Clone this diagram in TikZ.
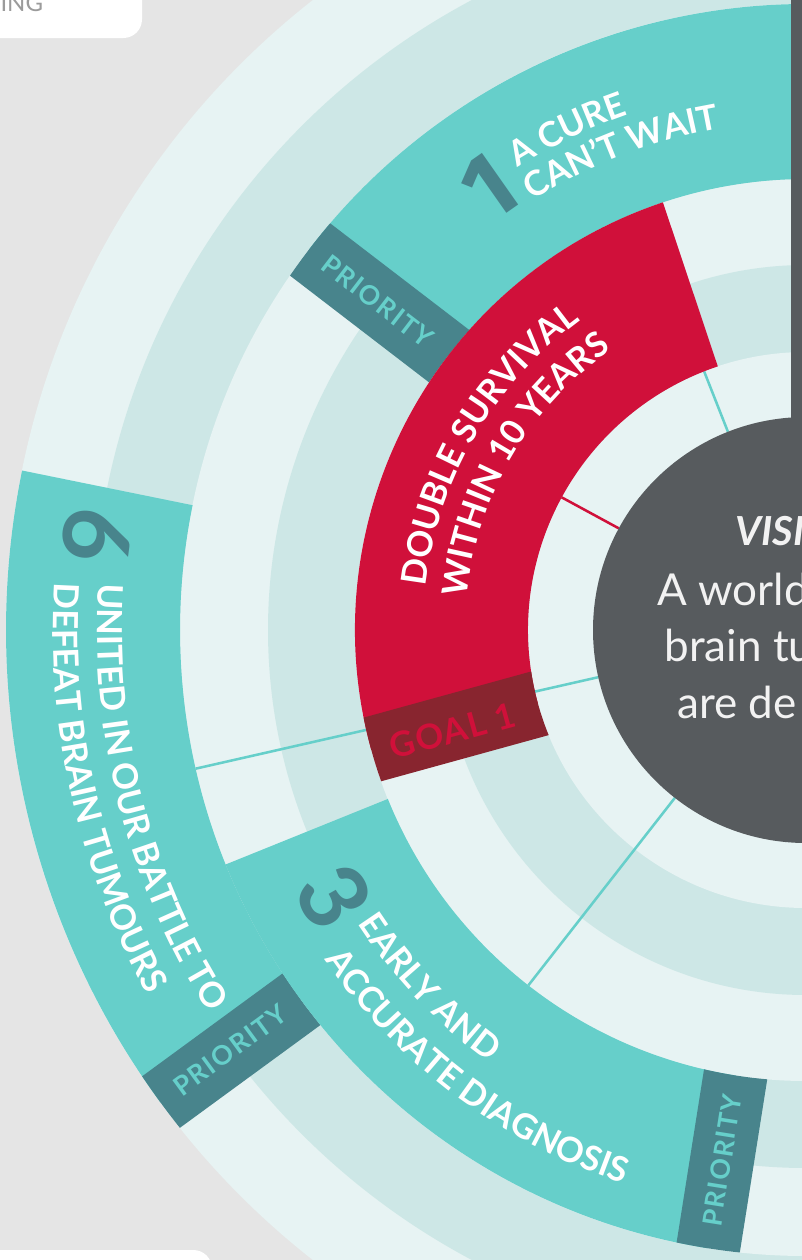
\documentclass[tikz,border=0pt]{standalone}
\usepackage{fontspec}
\setmainfont{Lato}
\newfontfamily\onefamily{Fira Sans}
\usetikzlibrary{decorations.text}

\definecolor{pagegrey}{HTML}{E5E5E5}
\definecolor{ringlight}{HTML}{E7F3F3}
\definecolor{ringmid}{HTML}{CDE7E6}
\definecolor{prioteal}{HTML}{66CFCA}
\definecolor{tabteal}{HTML}{48848C}
\definecolor{goalred}{HTML}{D0103A}
\definecolor{goaltab}{HTML}{88252F}
\definecolor{visiongrey}{HTML}{575B5E}
\definecolor{inkgrey}{HTML}{9B9B9B}

\newcommand{\arcfont}{\fontsize{26}{31}\selectfont\bfseries}
\newcommand{\tabfont}{\fontsize{20}{24}\selectfont\bfseries\addfontfeature{LetterSpace=6}}
\newcommand{\numfont}{\fontsize{70}{80}\selectfont\bfseries}

\tikzset{every picture/.style={line width=0.75pt}}
\tikzset{
  arclabel/.style={decorate, decoration={text along path, text align=left, text color=white}},
  spoke/.style={line width=1.9pt, draw=prioteal},
  tablabel/.style={inner sep=0pt, font=\tabfont},
  numlabel/.style={inner sep=0pt, font=\numfont, text=tabteal},
  visionline/.style={anchor=base west, inner sep=0pt, text=white!95!black, font=\fontsize{33}{40}\selectfont},
}

\begin{document}
\begin{tikzpicture}[x=0.75pt,y=0.75pt,yscale=-1,xscale=1]
\useasboundingbox (0,0) rectangle (802,1260);
\clip (0,0) rectangle (802,1260);

% Background
\fill[pagegrey] (0,0) rectangle (802,1260);
\fill[white, rounded corners=14] (-20,-20) rectangle (142,38);
\fill[white, rounded corners=14] (-20,1250) rectangle (212,1290);
\node[anchor=base west, inner sep=0pt, text=inkgrey, font=\fontsize{18}{22}\selectfont] (topnote) at (0,11) {ING};

% Wheel, centre at (806,630)
\begin{scope}[shift={(806,630)},yscale=-1]
% Rings
\fill[ringlight] (0,0) circle[radius=800];
\fill[ringmid] (0,0) circle[radius=713];
\fill[ringlight] (0,0) circle[radius=626];
\fill[ringmid] (0,0) circle[radius=538];
\fill[ringlight] (0,0) circle[radius=451];
\fill[ringmid] (0,0) circle[radius=365];
\fill[ringlight] (0,0) circle[radius=278];

% Spokes
\draw[spoke] (111.5:213) -- (111.5:278);
\draw[spoke, draw=goalred] (151.5:213) -- (151.5:278);
\draw[spoke] (192.8:213) -- (192.8:626);
\draw[spoke] (232:213) -- (232:451);

% Priority 1
\fill[prioteal] (142.5:451) arc[start angle=142.5, end angle=85, radius=451] -- (85:626) arc[start angle=85, end angle=142.5, radius=626] -- cycle;
\fill[tabteal, rotate=142.5] (-4.20:451) -- (-3.02:626) arc[start angle=-3.02, end angle=3.02, radius=626] -- (4.20:451) arc[start angle=4.20, end angle=-4.20, radius=451] -- cycle;
% Priority 6
\fill[prioteal] (168.5:626) arc[start angle=168.5, end angle=216.2, radius=626] -- (216.2:800) arc[start angle=216.2, end angle=168.5, radius=800] -- cycle;
\fill[tabteal, rotate=216.2] (-2.93:626) -- (-2.29:800) arc[start angle=-2.29, end angle=2.29, radius=800] -- (2.93:626) arc[start angle=2.93, end angle=-2.93, radius=626] -- cycle;
% Priority 3
\fill[prioteal] (202:451) arc[start angle=202, end angle=261, radius=451] -- (261:626) arc[start angle=261, end angle=202, radius=626] -- cycle;
\fill[tabteal, rotate=261] (-4.07:451) -- (-2.93:626) arc[start angle=-2.93, end angle=2.93, radius=626] -- (4.07:451) arc[start angle=4.07, end angle=-4.07, radius=451] -- cycle;
% Goal 1
\fill[goalred] (108.5:278) arc[start angle=108.5, end angle=195.4, radius=278] -- (195.4:451) arc[start angle=195.4, end angle=108.5, radius=451] -- cycle;
\fill[goaltab, rotate=195.4] (-6.82:278) -- (-4.20:451) arc[start angle=-4.20, end angle=4.20, radius=451] -- (6.82:278) arc[start angle=6.82, end angle=-6.82, radius=278] -- cycle;

% Vision circle
\fill[visiongrey] (0,0) circle[radius=213];

% Tab labels
\node[tablabel, text=prioteal, rotate=-37.5] (prio1) at (142.5:540) {PRIORITY};
\node[tablabel, text=prioteal, rotate=36.2] (prio6) at (216.1:713) {PRIORITY};
\node[tablabel, text=prioteal, rotate=81] (prio3) at (261:537) {PRIORITY};
\node[tablabel, text=goalred, font=\fontsize{26}{31}\selectfont\bfseries\addfontfeature{LetterSpace=4}, rotate=15.4] (goal1) at (195.9:368) {GOAL 1};

% Numbers
\node[numlabel, font=\numfont\onefamily, rotate=35.1] (num1) at (125.6:545) {1};
\node[numlabel, rotate=-97.6] (num6) at (172.4:715) {6};
\node[numlabel, rotate=-60.6] (num3) at (209.4:542) {3};

% Curved labels
\path[arclabel, decoration={text={|\arcfont|A CURE}}] (122:545) arc[start angle=122, end angle=95, radius=545];
\path[arclabel, decoration={text={|\arcfont|CAN’T WAIT}}] (122.5:509) arc[start angle=122.5, end angle=90, radius=509];
\path[arclabel, decoration={text={|\arcfont|DOUBLE SURVIVAL}}] (173.5:383) arc[start angle=173.5, end angle=115, radius=383];
\path[arclabel, decoration={text={|\arcfont|WITHIN 10 YEARS}}] (174.5:341) arc[start angle=174.5, end angle=110, radius=341];
\path[arclabel, decoration={text={|\arcfont|UNITED IN OUR BATTLE TO}}] (176.2:709) arc[start angle=176.2, end angle=222, radius=709];
\path[arclabel, decoration={text={|\arcfont|DEFEAT BRAIN TUMOURS}}] (176.4:753) arc[start angle=176.4, end angle=222, radius=753];
\path[arclabel, decoration={text={|\arcfont|EARLY AND}}] (213.2:536) arc[start angle=213.2, end angle=250, radius=536];
\path[arclabel, decoration={text={|\arcfont|ACCURATE DIAGNOSIS}}] (214.4:583) arc[start angle=214.4, end angle=262, radius=583];
\end{scope}

% Frame bar
\fill[visiongrey] (791,-5) rectangle (810,640);

% Text Node
\node[visionline, font=\fontsize{30}{36}\selectfont\bfseries\itshape] (vision) at (735,545) {VISI};
\node[visionline] (world) at (657,605) {A world};
\node[visionline] (brain) at (664,661) {brain tu};
\node[visionline] (defeat) at (677,718) {are de};

\end{tikzpicture}
\end{document}
